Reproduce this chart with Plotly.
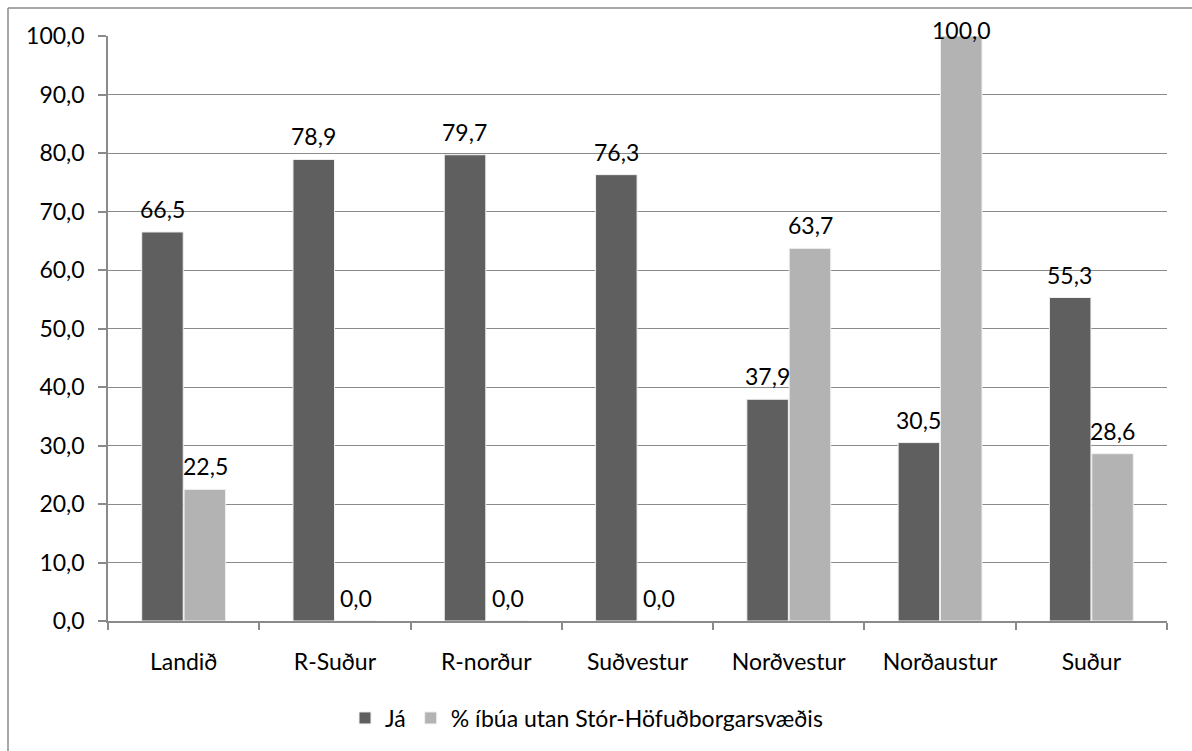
import plotly.graph_objects as go

# Regions and survey shares (%)
regions = ["Landið", "R-Suður", "R-norður", "Suðvestur", "Norðvestur", "Norðaustur", "Suður"]
ja = [66.5, 78.9, 79.7, 76.3, 37.9, 30.5, 55.3]
utan = [22.5, 0.0, 0.0, 0.0, 63.7, 100.0, 28.6]
series_names = ["Já", "% íbúa utan Stór-Höfuðborgarsvæðis"]
y_ticks = [0, 10, 20, 30, 40, 50, 60, 70, 80, 90, 100]

FONT = "Lato"
FS = 23
GRID = "#8a8a8a"
COLORS = ["#5f5f5f", "#b3b3b3"]

W, H = 1192, 751
L, R, T, B = 108, 25, 36, 130
pw, ph = W - L - R, H - T - B
Y_MAX = 100

fig = go.Figure()
for i, (name, vals) in enumerate(zip(series_names, [ja, utan])):
    fig.add_trace(go.Bar(
        x=regions, y=vals, name=name, offsetgroup=str(i),
        marker=dict(color=COLORS[i], line=dict(color="#f0f0f0", width=1)),
        cliponaxis=False,
    ))

fig.update_layout(
    width=W, height=H,
    margin=dict(l=L, r=R, t=T, b=B),
    paper_bgcolor="white", plot_bgcolor="white",
    separators=", ",
    barmode="group", bargap=0.44, bargroupgap=0.02,
    font=dict(family=FONT, size=FS, color="#000000"),
    showlegend=True,
    legend=dict(orientation="h", x=(345 - L) / pw, xanchor="left",
                y=-(718 - (H - B)) / ph, yanchor="middle",
                font=dict(family=FONT, size=FS), itemwidth=30,
                bgcolor="rgba(0,0,0,0)"),
)

# Value labels above each bar, kept inside the frame near the top
n = len(regions)
px_per_unit = ph / Y_MAX
for i, vals in enumerate([ja, utan]):
    for j, v in enumerate(vals):
        top_px = T + (Y_MAX - v) * px_per_unit
        shift = min(23, top_px - 30)
        fig.add_annotation(
            x=j, y=v, xref="x", yref="y",
            text=f"{v:.1f}".replace(".", ","),
            showarrow=False, yshift=shift, xshift=(-21.5 if i == 0 else 21.5),
            font=dict(family=FONT, size=FS, color="#000000"),
            yanchor="middle",
        )

fig.update_yaxes(
    range=[0, Y_MAX], tickvals=y_ticks, tickformat=".1f",
    showgrid=True, gridcolor=GRID, gridwidth=1,
    showline=True, linecolor=GRID, linewidth=1.5,
    ticks="outside", ticklen=8, tickcolor=GRID, tickwidth=1.5,
    zeroline=False, ticklabelstandoff=9,
    tickfont=dict(family=FONT, size=FS),
)
fig.update_xaxes(
    showline=True, linecolor=GRID, linewidth=1.5,
    ticks="outside", tickson="boundaries", ticklen=7, tickcolor=GRID, tickwidth=1.5,
    showgrid=False, ticklabelstandoff=20,
    tickfont=dict(family=FONT, size=FS),
)

# Chart frame: left and top edges
x_left = (8 - L) / pw
y_top = 1 + (T - 8) / ph
fig.add_shape(type="line", xref="paper", yref="paper", x0=x_left, x1=x_left,
              y0=-(B + 10) / ph, y1=y_top, line=dict(color=GRID, width=1.5))
fig.add_shape(type="line", xref="paper", yref="paper", x0=x_left, x1=1 + (R + 10) / pw,
              y0=y_top, y1=y_top, line=dict(color=GRID, width=1.5))

fig.write_html("out.html")
